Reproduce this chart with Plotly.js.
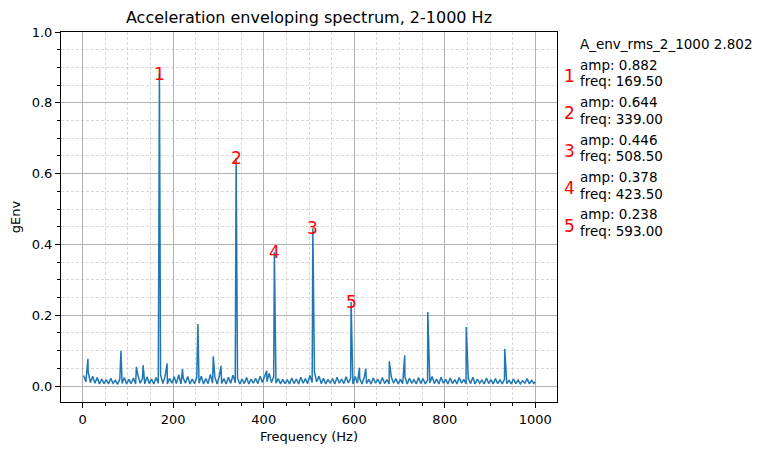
<!DOCTYPE html>
<html>
<head>
<meta charset="utf-8">
<script src="https://cdn.plot.ly/plotly-3.0.1.min.js"></script>
<style>
  html, body { margin: 0; padding: 0; background: #fff; }
  #chart { width: 771px; height: 455px; }
</style>
</head>
<body>
<div id="chart"></div>
<script>
// noise floor of the envelope spectrum
const noiseFreq = [
    2, 7, 12, 17, 22, 27, 32, 37, 42, 47,
    52, 57, 62, 67, 72, 77, 82, 87, 92, 97,
    102, 107, 112, 117, 122, 127, 132, 137, 142, 147,
    152, 157, 162, 167, 172, 177, 182, 187, 192, 197,
    202, 207, 212, 217, 222, 227, 232, 237, 242, 247,
    252, 257, 262, 267, 272, 277, 282, 287, 292, 297,
    302, 307, 312, 317, 322, 327, 332, 337, 342, 347,
    352, 357, 362, 367, 372, 377, 382, 387, 392, 397,
    402, 407, 412, 417, 422, 427, 432, 437, 442, 447,
    452, 457, 462, 467, 472, 477, 482, 487, 492, 497,
    502, 507, 512, 517, 522, 527, 532, 537, 542, 547,
    552, 557, 562, 567, 572, 577, 582, 587, 592, 597,
    602, 607, 612, 617, 622, 627, 632, 637, 642, 647,
    652, 657, 662, 667, 672, 677, 682, 687, 692, 697,
    702, 707, 712, 717, 722, 727, 732, 737, 742, 747,
    752, 757, 762, 767, 772, 777, 782, 787, 792, 797,
    802, 807, 812, 817, 822, 827, 832, 837, 842, 847,
    852, 857, 862, 867, 872, 877, 882, 887, 892, 897,
    902, 907, 912, 917, 922, 927, 932, 937, 942, 947,
    952, 957, 962, 967, 972, 977, 982, 987, 992, 997, 1000
];
const noiseAmp = [
    0.030, 0.012, 0.040, 0.010, 0.028, 0.008, 0.024, 0.006, 0.020, 0.007,
    0.018, 0.006, 0.022, 0.008, 0.016, 0.005, 0.020, 0.007, 0.024, 0.006,
    0.019, 0.007, 0.023, 0.006, 0.030, 0.008, 0.021, 0.006, 0.026, 0.007,
    0.020, 0.006, 0.024, 0.008, 0.032, 0.007, 0.028, 0.006, 0.022, 0.008,
    0.026, 0.007, 0.032, 0.006, 0.022, 0.008, 0.027, 0.006, 0.020, 0.007,
    0.024, 0.008, 0.028, 0.006, 0.021, 0.007, 0.033, 0.008, 0.025, 0.006,
    0.029, 0.007, 0.021, 0.006, 0.025, 0.008, 0.031, 0.009, 0.023, 0.006,
    0.020, 0.007, 0.024, 0.006, 0.019, 0.008, 0.022, 0.007, 0.028, 0.010,
    0.030, 0.012, 0.036, 0.010, 0.026, 0.008, 0.021, 0.006, 0.019, 0.007,
    0.018, 0.006, 0.023, 0.007, 0.020, 0.006, 0.025, 0.008, 0.021, 0.007,
    0.030, 0.010, 0.040, 0.012, 0.028, 0.007, 0.022, 0.006, 0.019, 0.008,
    0.021, 0.006, 0.025, 0.008, 0.020, 0.007, 0.026, 0.009, 0.022, 0.006,
    0.027, 0.008, 0.021, 0.006, 0.025, 0.007, 0.019, 0.006, 0.023, 0.008,
    0.020, 0.006, 0.024, 0.007, 0.018, 0.006, 0.025, 0.008, 0.021, 0.006,
    0.019, 0.007, 0.026, 0.006, 0.022, 0.008, 0.018, 0.006, 0.024, 0.007,
    0.021, 0.006, 0.017, 0.009, 0.027, 0.007, 0.020, 0.006, 0.025, 0.008,
    0.019, 0.006, 0.023, 0.007, 0.018, 0.006, 0.024, 0.008, 0.019, 0.006,
    0.022, 0.007, 0.025, 0.006, 0.020, 0.008, 0.017, 0.006, 0.023, 0.007,
    0.018, 0.006, 0.021, 0.007, 0.017, 0.006, 0.019, 0.007, 0.016, 0.006,
    0.020, 0.007, 0.017, 0.006, 0.015, 0.008, 0.021, 0.006, 0.016, 0.007, 0.012
];

// smaller unlabelled spikes
const spikeFreq = [11.5, 84.5, 118.5, 133.5, 186.5, 220.5, 254.5, 288.5, 305.5,
                   406.5, 611.5, 625.5, 677.5, 711.5, 762.5, 847.5, 932.5];
const spikeAmp = [0.077, 0.100, 0.054, 0.059, 0.064, 0.048, 0.175, 0.084, 0.057,
                  0.043, 0.052, 0.049, 0.070, 0.087, 0.209, 0.167, 0.105];

// five largest peaks, in rank order
const peakFreq = [169.5, 339.0, 508.5, 423.5, 593.0];
const peakAmp = [0.882, 0.644, 0.446, 0.378, 0.238];
const peakRank = ["1", "2", "3", "4", "5"];

const rmsName = "A_env_rms_2_1000";
const rmsValue = 2.802;

// merge everything into one sorted spectrum
const pts = [];
noiseFreq.forEach((f, i) => pts.push([f, noiseAmp[i]]));
spikeFreq.forEach((f, i) => pts.push([f, spikeAmp[i]]));
peakFreq.forEach((f, i) => pts.push([f, peakAmp[i]]));
pts.sort((a, b) => a[0] - b[0]);

const spectrum = {
    x: pts.map(p => p[0]),
    y: pts.map(p => p[1]),
    mode: "lines",
    type: "scatter",
    line: {color: "#1f77b4", width: 1.5},
    hoverinfo: "x+y"
};

const font = "DejaVu Sans, sans-serif";

// plot box in pixels, used to place the side text
const boxLeft = 61, boxRight = 557, boxTop = 32, boxBottom = 402;
const px2xp = px => (px - boxLeft) / (boxRight - boxLeft);
const px2yp = py => (boxBottom - py) / (boxBottom - boxTop);

const annotations = [];

peakFreq.forEach((f, i) => {
    annotations.push({
        x: f, y: peakAmp[i], xref: "x", yref: "y",
        text: peakRank[i], showarrow: false,
        xanchor: "center", yanchor: "middle",
        font: {family: font, size: 17, color: "red"}
    });
});

annotations.push({
    x: px2xp(578), y: px2yp(44), xref: "paper", yref: "paper",
    text: rmsName + " " + rmsValue.toFixed(3), showarrow: false,
    xanchor: "left", yanchor: "middle",
    font: {family: font, size: 13.5, color: "#000"}
});

peakFreq.forEach((f, i) => {
    const y0 = 64.5 + i * 37.5;
    annotations.push({
        x: px2xp(578), y: px2yp(y0), xref: "paper", yref: "paper",
        text: "amp: " + peakAmp[i].toFixed(3), showarrow: false,
        xanchor: "left", yanchor: "middle",
        font: {family: font, size: 13.5, color: "#000"}
    });
    annotations.push({
        x: px2xp(578), y: px2yp(y0 + 16.5), xref: "paper", yref: "paper",
        text: "freq: " + f.toFixed(2), showarrow: false,
        xanchor: "left", yanchor: "middle",
        font: {family: font, size: 13.5, color: "#000"}
    });
    annotations.push({
        x: px2xp(569), y: px2yp(y0 + 11), xref: "paper", yref: "paper",
        text: peakRank[i], showarrow: false,
        xanchor: "center", yanchor: "middle",
        font: {family: font, size: 17, color: "red"}
    });
});

const layout = {
    width: 771,
    height: 455,
    margin: {l: boxLeft, r: 771 - boxRight, t: boxTop, b: 455 - boxBottom, pad: 0},
    paper_bgcolor: "#fff",
    plot_bgcolor: "#fff",
    showlegend: false,
    font: {family: font, size: 13, color: "#000"},
    title: {
        text: "Acceleration enveloping spectrum, 2-1000 Hz",
        font: {family: font, size: 16, color: "#000"},
        x: 0.5 * (boxLeft + boxRight) / 771,
        xanchor: "center",
        y: 1 - 17 / 455,
        yanchor: "middle"
    },
    xaxis: {
        range: [-48, 1048],
        tickmode: "linear", tick0: 0, dtick: 200,
        ticks: "outside", ticklen: 5, tickwidth: 1, tickcolor: "#000",
        showline: true, linecolor: "#000", linewidth: 1, mirror: true,
        showgrid: true, gridcolor: "#b0b0b0", gridwidth: 1,
        zeroline: false,
        minor: {
            dtick: 50, ticks: "outside", ticklen: 3, tickcolor: "#000",
            showgrid: true, gridcolor: "#c4bcbc", gridwidth: 0.6, griddash: "3px,2px"
        },
        tickfont: {family: font, size: 13, color: "#000"},
        title: {
            text: "Frequency (Hz)",
            font: {family: font, size: 13, color: "#000"},
            standoff: 6
        }
    },
    yaxis: {
        range: [-0.045, 1.0],
        tickmode: "linear", tick0: 0, dtick: 0.2, tickformat: ".1f",
        ticks: "outside", ticklen: 5, tickwidth: 1, tickcolor: "#000",
        showline: true, linecolor: "#000", linewidth: 1, mirror: true,
        showgrid: true, gridcolor: "#b0b0b0", gridwidth: 1,
        zeroline: false,
        minor: {
            dtick: 0.05, ticks: "outside", ticklen: 3, tickcolor: "#000",
            showgrid: true, gridcolor: "#c4bcbc", gridwidth: 0.6, griddash: "3px,2px"
        },
        tickfont: {family: font, size: 13, color: "#000"},
        title: {
            text: "gEnv",
            font: {family: font, size: 13, color: "#000"},
            standoff: 8
        }
    },
    annotations: annotations
};

Plotly.newPlot("chart", [spectrum], layout, {displayModeBar: false, staticPlot: true});
</script>
</body>
</html>
